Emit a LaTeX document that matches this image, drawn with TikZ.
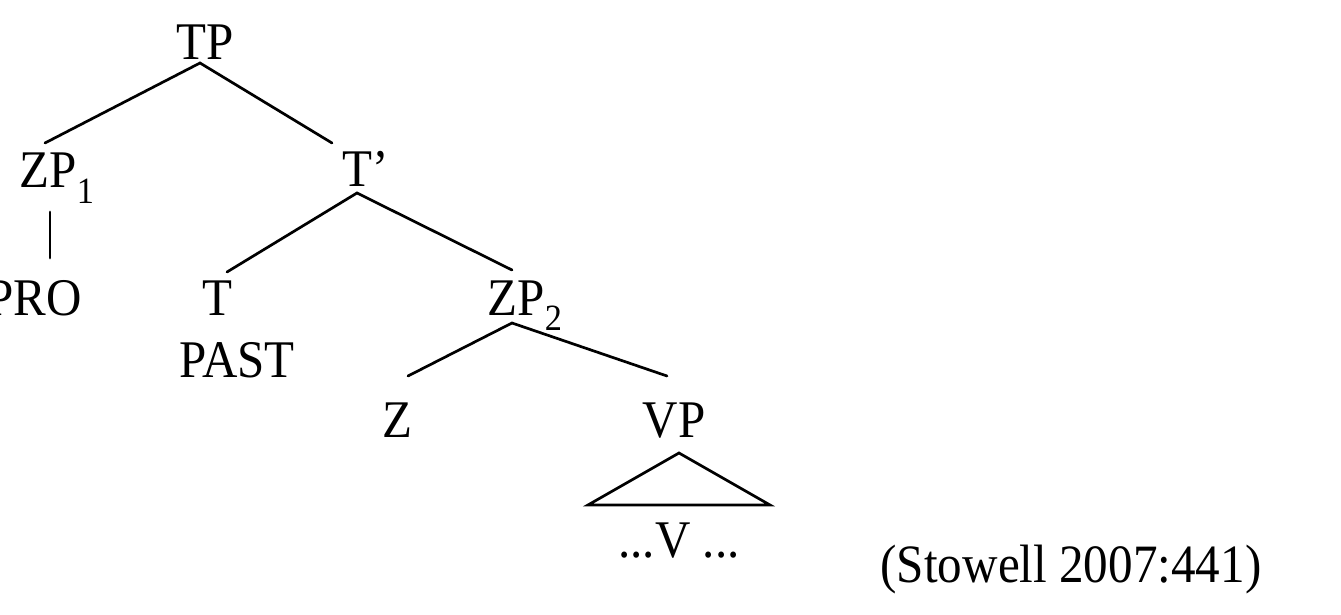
\documentclass[tikz,border=0pt]{standalone}
\usepackage{fontspec}
\usepackage{graphicx}
\setmainfont{Liberation Serif}
\newfontfamily\treefont{Liberation Serif}
\newcommand\tx[1]{\scalebox{1}[1.08]{#1}}
\begin{document}
\begin{tikzpicture}[x=1pt,y=1pt,
  lab/.style={anchor=base,inner sep=0pt,font=\treefont\fontsize{49}{49}\selectfont},
  edge/.style={line width=2.7pt,line cap=round,line join=miter}]
\useasboundingbox (0,0) rectangle (1341,614);
% labels
\node[lab] (TP) at (205,554) {\tx{TP}};
\node[lab] (ZP1) at (57,426) {\tx{ZP\textsubscript{1}}};
\node[lab] (Tbar) at (366,427) {\tx{T’}};
\node[lab,anchor=base east] (PRO) at (82,299) {\tx{PRO}};
\node[lab] (T) at (217,299) {\tx{T}};
\node[lab] (PAST) at (237,237) {\tx{PAST}};
\node[lab] (ZP2) at (525,299) {\tx{ZP\textsubscript{2}}};
\node[lab] (Z) at (397,177) {\tx{Z}};
\node[lab] (VP) at (674,177) {\tx{VP}};
\node[lab] (dots) at (679,57) {\tx{...V ...}};
\node[anchor=base,inner sep=0pt,font=\treefont\fontsize{54}{54}\selectfont] (cite) at (1071,32) {\scalebox{0.91}[1]{(Stowell 2007:441)}};
% connector end points
\coordinate (TPb) at (200,551);
\coordinate (ZP1t) at (45,471);
\coordinate (Tbart) at (332,471);
\coordinate (ZP1b) at (50,402);
\coordinate (PROt) at (50,356);
\coordinate (Tbarb) at (357,421);
\coordinate (Tt) at (227,342);
\coordinate (ZP2t) at (512,344);
\coordinate (ZP2b) at (512,291);
\coordinate (Zt) at (408,238);
\coordinate (VPt) at (667,238);
\coordinate (VPb) at (679,161);
\coordinate (triL) at (588,109);
\coordinate (triR) at (770,109);
% connectors
\draw[edge] (ZP1t) -- (TPb) -- (Tbart);
\draw[edge] (ZP1b) -- (PROt);
\draw[edge] (Tt) -- (Tbarb) -- (ZP2t);
\draw[edge] (Zt) -- (ZP2b) -- (VPt);
\draw[edge] (VPb) -- (triL) -- (triR) -- cycle;
\end{tikzpicture}
\end{document}
